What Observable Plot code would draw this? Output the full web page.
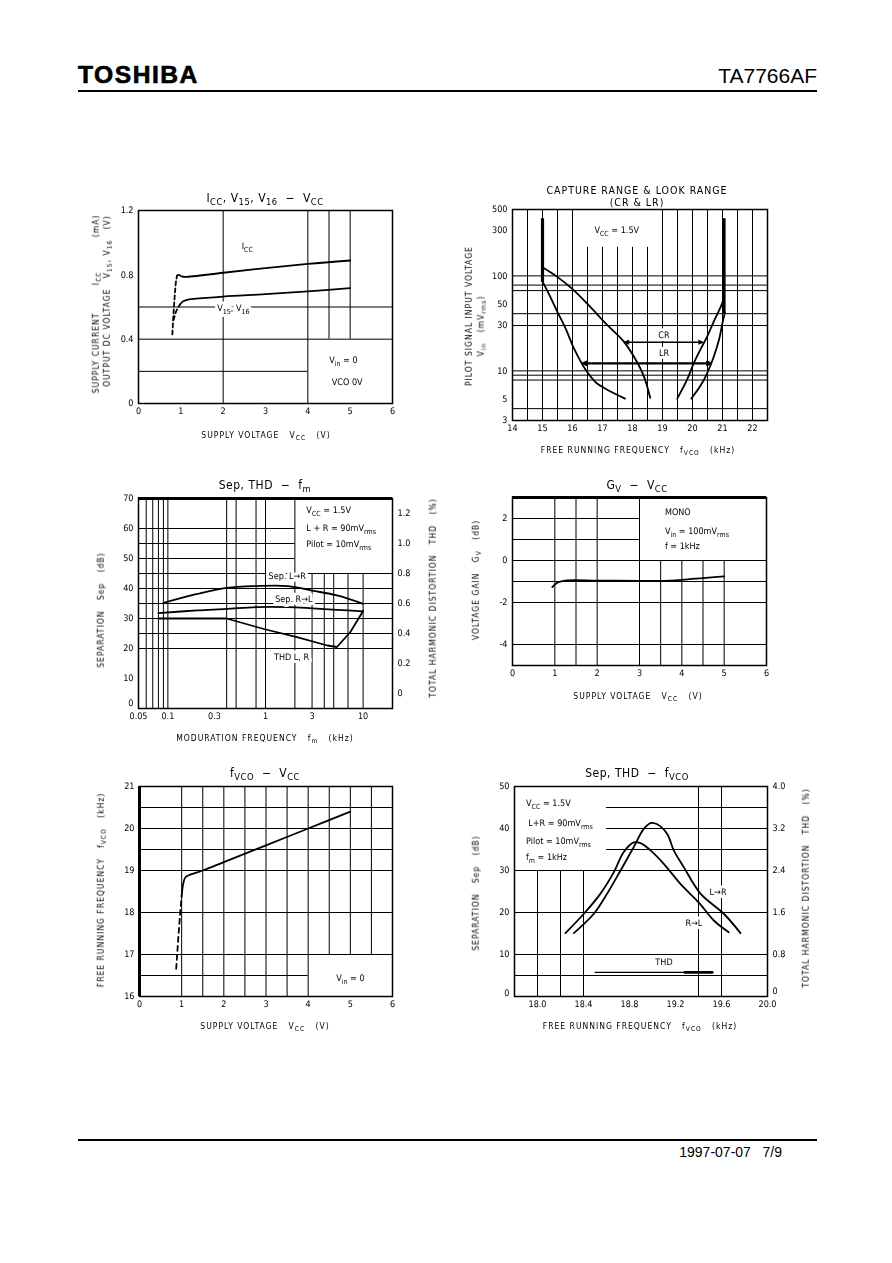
<!DOCTYPE html>
<html><head><meta charset="utf-8">
<script src="https://cdn.jsdelivr.net/npm/d3@7"></script>
<script src="https://cdn.jsdelivr.net/npm/@observablehq/plot@0.6"></script>
<style>
html,body{margin:0;padding:0;background:#fff;}
body{width:892px;height:1263px;position:relative;overflow:hidden;color:#000;}
sub{font-size:78%;vertical-align:-0.3em;line-height:0;}
.hd{position:absolute;font-family:"Liberation Sans",Arial,sans-serif;}
svg{will-change:transform;}
svg text{text-rendering:geometricPrecision;}
.lab{will-change:transform;}
</style></head><body>
<script>
// ---------------- DATA ----------------
// Chart 1: ICC, V15, V16 - VCC
const c1_iccDashV = [0.80, 0.82, 0.85, 0.88, 0.91];
const c1_iccDash  = [0.43, 0.53, 0.65, 0.75, 0.795];
const c1_iccV = [0.91, 0.95, 1.02, 1.10, 2.0, 3.0, 4.0, 5.0];
const c1_icc  = [0.795, 0.80, 0.79, 0.787, 0.813, 0.842, 0.868, 0.889];
const c1_v15DashV = [0.83, 0.87, 0.92, 0.98];
const c1_v15Dash  = [0.52, 0.56, 0.59, 0.615];
const c1_v15V = [0.98, 1.05, 1.15, 1.30, 2.0, 3.0, 4.0, 5.0];
const c1_v15  = [0.615, 0.635, 0.645, 0.65, 0.665, 0.68, 0.697, 0.717];
const c1_xTicks = [0, 1, 2, 3, 4, 5, 6];
const c1_yTicks = [0, 0.4, 0.8, 1.2];

// Chart 2: Capture range & lock range (VCC = 1.5 V)
const c2_crLeftF = [15.02, 15.45, 16.01, 16.57, 17.13, 17.69, 18.03, 18.37, 18.59];
const c2_crLeftV = [122, 100, 72, 48, 31, 20.7, 14.4, 8.9, 5.2];
const c2_lrLeftF = [15.02, 15.22, 15.51, 15.78, 16.06, 16.46, 16.79, 17.13, 17.75];
const c2_lrLeftV = [85, 64, 41, 27.5, 16.9, 10, 7.5, 6.4, 5.1];
const c2_crRightF = [19.49, 19.82, 20.05, 20.27, 20.50, 20.72, 20.95, 21.06];
const c2_crRightV = [5.1, 8.1, 12.2, 16.9, 23.4, 33.6, 48, 59];
const c2_lrRightF = [19.96, 20.27, 20.50, 20.72, 20.89, 21.00, 21.08];
const c2_lrRightV = [5.1, 7.0, 9.6, 14.4, 21.6, 32, 41];
const c2_limitF = [15.0, 21.05];
const c2_limitTop = [400, 400];
const c2_limitBottom = [85, 40];
const c2_arrowName = ["CR", "LR"];
const c2_arrowFrom = [17.75, 16.35];
const c2_arrowTo = [20.33, 20.61];
const c2_arrowV = [20, 12];
const c2_xTicks = [14, 15, 16, 17, 18, 19, 20, 21, 22];
const c2_yTicks = [3, 5, 10, 30, 50, 100, 300, 500];

// Chart 3: Sep, THD - fm
const c3_sepLRf = [0.09, 0.2, 0.4, 0.8, 1.7, 3.0, 5.4, 10];
const c3_sepLR  = [35.2, 38.2, 40.2, 40.8, 40.8, 39.3, 37.7, 34.9];
const c3_sepRLf = [0.08, 0.2, 0.4, 0.8, 1.7, 3.0, 5.4, 10];
const c3_sepRL  = [31.8, 32.7, 33.2, 33.8, 33.8, 33.4, 32.9, 32.4];
const c3_thdF = [0.08, 0.4, 0.96, 2.1, 4.3, 5.4, 7.4, 10];
const c3_thd  = [0.50, 0.50, 0.43, 0.376, 0.32, 0.31, 0.41, 0.55];
const c3_xTicks = [0.05, 0.1, 0.3, 1, 3, 10];
const c3_yTicks = [0, 10, 20, 30, 40, 50, 60, 70];
const c3_thdTicks = [0, 0.2, 0.4, 0.6, 0.8, 1.0, 1.2];

// Chart 4: Gv - VCC
const c4_vcc = [0.94, 1.06, 1.29, 2.0, 3.0, 3.5, 4.0, 4.5, 5.0];
const c4_gv  = [-1.27, -1.06, -0.95, -0.96, -0.97, -0.97, -0.92, -0.84, -0.76];
const c4_xTicks = [0, 1, 2, 3, 4, 5, 6];
const c4_yTicks = [2, 0, -2, -4];

// Chart 5: fVCO - VCC
const c5_dashV = [0.87, 0.92, 0.97, 1.0];
const c5_dashF = [16.66, 17.4, 18.05, 18.4];
const c5_vcc = [1.0, 1.04, 1.09, 1.2, 1.5, 2.0, 3.0, 4.0, 5.0];
const c5_f   = [18.4, 18.7, 18.84, 18.9, 19.0, 19.2, 19.6, 20.0, 20.4];
const c5_xTicks = [0, 1, 2, 3, 4, 5, 6];
const c5_yTicks = [16, 17, 18, 19, 20, 21];

// Chart 6: Sep, THD - fVCO
const c6_sepRLf = [18.243, 18.403, 18.548, 18.664, 18.750, 18.837, 18.896, 18.983, 19.098, 19.243, 19.411, 19.533, 19.663];
const c6_sepRL  = [15.1, 19.7, 24.5, 29.6, 34.4, 36.7, 36.5, 34.8, 31.6, 26.8, 22.1, 18.1, 15.3];
const c6_sepLRf = [18.316, 18.490, 18.606, 18.722, 18.837, 18.924, 18.983, 19.041, 19.128, 19.185, 19.272, 19.417, 19.620, 19.765];
const c6_sepLR  = [15.1, 19.7, 24.5, 30.0, 35.6, 39.9, 41.3, 41.0, 38.7, 34.8, 30.8, 24.5, 19.7, 15.1];
const c6_thdF = [18.50, 19.28, 19.52];
const c6_thd  = [0.46, 0.46, 0.46];
const c6_xTicks = [18.0, 18.4, 18.8, 19.2, 19.6, 20.0];
const c6_yTicks = [0, 10, 20, 30, 40, 50];
const c6_thdTicks = [0, 0.8, 1.6, 2.4, 3.2, 4.0];

// ---------------- HELPERS ----------------
const FONT = '"Liberation Sans Narrow","DejaVu Sans Condensed","Liberation Sans",Arial,sans-serif';
const SVGNS = "http://www.w3.org/2000/svg";

function subify(svg) {
  svg.querySelectorAll("text").forEach(t => {
    const targets = t.querySelector("tspan") ? [...t.querySelectorAll("tspan")] : [t];
    targets.forEach(el => {
      const s = el.textContent;
      if (!s.includes("_{")) return;
      el.textContent = "";
      s.split(/_\{([^}]*)\}/).forEach((p, i) => {
        if (!p) return;
        const ts = document.createElementNS(SVGNS, "tspan");
        ts.textContent = p;
        if (i % 2) { ts.setAttribute("font-size", "78%"); ts.setAttribute("baseline-shift", "-3"); }
        el.appendChild(ts);
      });
    });
  });
}

function chart(frame, m, scales, marks) {
  const [x0, y0, x1, y1] = frame;
  const svg = Plot.plot({
    width: x1 - x0 + m[1] + m[3],
    height: y1 - y0 + m[0] + m[2],
    marginTop: m[0], marginRight: m[1], marginBottom: m[2], marginLeft: m[3],
    x: {...scales.x, axis: null},
    y: {...scales.y, axis: null},
    style: {fontFamily: FONT, fontSize: "9px", color: "#000", background: "transparent", overflow: "visible"},
    marks
  });
  svg.style.position = "absolute";
  svg.style.left = (x0 - m[3]) + "px";
  svg.style.top = (y0 - m[0]) + "px";
  subify(svg);
  document.body.appendChild(svg);
}

function curve(xs, ys, extra = {}) {
  return Plot.line(xs, {x: xs, y: ys, stroke: "#000", strokeWidth: 1.8, curve: "catmull-rom", ...extra});
}

function note(data, opts) {
  return [
    Plot.text(data, {fontSize: 9, ...opts, fill: "white", stroke: "white", strokeWidth: 6}),
    Plot.text(data, {fontSize: 9, ...opts, fill: "black"})
  ];
}

function note0(data, opts) {
  return Plot.text(data, {fontSize: 9, fill: "black", ...opts});
}

// tick labels drawn through the chart's own scales
const fmt1 = d => d === 0 ? "0" : d.toFixed(1);
const xLab = (ticks, f = String) => Plot.text(ticks, {x: d => d, frameAnchor: "bottom", dy: 10, text: f, fontSize: 9, fill: "black"});
const yLab = (ticks, f = String, dy = 0) => Plot.text(ticks, {y: d => d, frameAnchor: "left", dx: -5, dy, textAnchor: "end", text: f, fontSize: 9, fill: "black"});
const yLabR = (ticks, yOf, f, dy = 0) => Plot.text(ticks, {y: yOf, frameAnchor: "right", dx: 5, dy, textAnchor: "start", text: f, fontSize: 9, fill: "black"});

function L(html, x, y, size = 8.5, rot = false, extra = "") {
  const d = document.createElement("div");
  d.className = "lab";
  d.innerHTML = html;
  d.style.cssText = `position:absolute;left:${x}px;top:${y}px;transform:translate(-50%,-50%)${rot ? " rotate(-90deg)" : ""};font-size:${size}px;white-space:pre;line-height:1;font-family:${FONT};letter-spacing:1px;${extra}`;
  document.body.appendChild(d);
}

const grid = {stroke: "#000", strokeWidth: 1};

// ---------------- HEADER / FOOTER ----------------
(function () {
  const b = document.createElement("div");
  b.className = "hd"; b.textContent = "TOSHIBA";
  b.style.cssText += "left:78px;top:62px;font-size:23px;font-weight:900;letter-spacing:1.4px;transform-origin:left top;transform:scaleX(1.07);-webkit-text-stroke:0.6px #000;";
  document.body.appendChild(b);
  const p = document.createElement("div");
  p.className = "hd"; p.textContent = "TA7766AF";
  p.style.cssText += "right:75px;top:64px;font-size:21px;";
  document.body.appendChild(p);
  const l1 = document.createElement("div");
  l1.style.cssText = "position:absolute;left:78px;top:90px;width:739px;height:2px;background:#000;";
  document.body.appendChild(l1);
  const l2 = document.createElement("div");
  l2.style.cssText = "position:absolute;left:78px;top:1139px;width:739px;height:2px;background:#000;";
  document.body.appendChild(l2);
  const f = document.createElement("div");
  f.className = "hd"; f.textContent = "1997-07-07   7/9";
  f.style.cssText += "right:110px;top:1144px;font-size:14px;white-space:pre;";
  document.body.appendChild(f);
})();

// ---------------- CHART 1 ----------------
chart([138, 210, 392, 403], [6, 10, 22, 30],
  {x: {domain: [0, 6]}, y: {domain: [0, 1.2]}},
  [
    Plot.ruleY([0.6, 0.4], grid),
    Plot.ruleY([0.2], {...grid, x1: 0, x2: 4}),
    Plot.ruleX([2, 4], grid),
    Plot.ruleX([4.5, 5], {...grid, y1: 0.4, y2: 1.2}),
    curve(c1_iccDashV, c1_iccDash, {strokeDasharray: "4,3", curve: "linear"}),
    curve(c1_iccV, c1_icc),
    curve(c1_v15DashV, c1_v15Dash, {strokeDasharray: "4,3", curve: "linear"}),
    curve(c1_v15V, c1_v15),
    note0([0], {x: 2.57, y: 0.98, text: () => "I_{CC}"}),
    ...note([0], {x: 2.24, y: 0.59, text: () => "V_{15}, V_{16}"}),
    note0([0], {x: 4.84, y: 0.27, text: () => "V_{in} = 0"}),
    note0([0], {x: 4.93, y: 0.13, text: () => "VCO 0V"}),
    Plot.frame({stroke: "#000", strokeWidth: 1.5}),
    xLab(c1_xTicks),
    yLab(c1_yTicks, fmt1)
  ]);
L("I<sub>CC</sub>, V<sub>15</sub>, V<sub>16</sub>  −  V<sub>CC</sub>", 265, 198, 12, false, "letter-spacing:0.5px;");
L("SUPPLY VOLTAGE   V<sub>CC</sub>   (V)", 266, 435, 8.5);
L("SUPPLY CURRENT        I<sub>CC</sub>          (mA)", 96, 304, 8.5, true);
L("OUTPUT DC VOLTAGE   V<sub>15</sub>, V<sub>16</sub>   (V)", 107, 301, 8.5, true);

// ---------------- CHART 2 ----------------
chart([512, 209, 767, 420], [6, 10, 22, 30],
  {x: {domain: [14, 22.5]}, y: {type: "log", domain: [3, 500]}},
  [
    Plot.ruleX([14.5, 15, 15.5, 16, 19, 19.5, 20, 20.5, 21, 21.5, 22], grid),
    Plot.ruleX([16.5, 17, 17.5, 18, 18.5], {...grid, y1: 3, y2: 200}),
    Plot.ruleY([100, 80, 70, 40, 30, 10, 9, 8, 4], grid),
    Plot.ruleX(c2_limitF, {x: c2_limitF, y1: c2_limitBottom, y2: c2_limitTop, stroke: "#000", strokeWidth: 3.2}),
    curve(c2_crLeftF, c2_crLeftV),
    curve(c2_lrLeftF, c2_lrLeftV),
    curve(c2_crRightF, c2_crRightV),
    curve(c2_lrRightF, c2_lrRightV),
    ...note([0], {x: 19.05, y: 24, text: () => "CR"}),
    ...note([0], {x: 19.05, y: 15.2, text: () => "LR"}),
    Plot.arrow(c2_arrowName, {x1: (d, i) => (c2_arrowFrom[i] + c2_arrowTo[i]) / 2, x2: (d, i) => c2_arrowFrom[i], y1: (d, i) => c2_arrowV[i], y2: (d, i) => c2_arrowV[i], stroke: "#000", strokeWidth: (d, i) => i ? 2.2 : 1.4, headLength: 6, headAngle: 50}),
    Plot.arrow(c2_arrowName, {x1: (d, i) => (c2_arrowFrom[i] + c2_arrowTo[i]) / 2, x2: (d, i) => c2_arrowTo[i], y1: (d, i) => c2_arrowV[i], y2: (d, i) => c2_arrowV[i], stroke: "#000", strokeWidth: (d, i) => i ? 2.2 : 1.4, headLength: 6, headAngle: 50}),
    note0([0], {x: 16.73, y: 305, textAnchor: "start", text: () => "V_{CC} = 1.5V"}),
    Plot.frame({stroke: "#000", strokeWidth: 1.5}),
    xLab(c2_xTicks),
    yLab(c2_yTicks)
  ]);
L("CAPTURE RANGE &amp; LOOK RANGE", 637, 190, 10.5);
L("(CR &amp; LR)", 637, 202, 10.5);
L("FREE RUNNING FREQUENCY   f<sub>VCO</sub>   (kHz)", 638, 450, 8.5);
L("PILOT SIGNAL INPUT VOLTAGE", 469, 316, 8.5, true);
L("V<sub>in</sub>   (mV<sub>rms</sub>)", 481, 326, 8.5, true);

// ---------------- CHART 3 ----------------
chart([138, 498, 392, 708], [6, 30, 22, 30],
  {x: {type: "log", domain: [0.05, 20]}, y: {domain: [0, 70]}},
  [
    Plot.ruleX([0.06, 0.07, 0.08, 0.09, 0.1, 0.4, 0.5, 0.8, 1, 2], grid),
    Plot.ruleX([3, 4, 5, 7, 10], {...grid, y1: 0, y2: 45}),
    Plot.ruleY([60, 55, 50], {...grid, x1: 0.05, x2: 2}),
    Plot.ruleY([45, 40, 35, 30, 25, 20], grid),
    Plot.ruleY([70], {stroke: "#000", strokeWidth: 3}),
    curve(c3_sepLRf, c3_sepLR),
    curve(c3_sepRLf, c3_sepRL),
    curve(c3_thdF, c3_thd.map(v => v * 50 + 5), {curve: "linear"}),
    ...note([0], {x: 1.67, y: 44.2, text: () => "Sep. L→R"}),
    ...note([0], {x: 1.95, y: 36.6, text: () => "Sep. R→L"}),
    ...note([0], {x: 1.85, y: 17.0, text: () => "THD L, R"}),
    note0([0], {x: 2.62, y: 66, textAnchor: "start", text: () => "V_{CC} = 1.5V"}),
    note0([0], {x: 2.62, y: 60.2, textAnchor: "start", text: () => "L + R = 90mV_{rms}"}),
    note0([0], {x: 2.62, y: 54.8, textAnchor: "start", text: () => "Pilot = 10mV_{rms}"}),
    Plot.frame({stroke: "#000", strokeWidth: 1.5}),
    xLab(c3_xTicks),
    yLab(c3_yTicks.filter(d => d > 0)),
    yLab([0], String, -5),
    yLabR(c3_thdTicks, v => v * 50 + 5, fmt1)
  ]);
L("Sep, THD  −  f<sub>m</sub>", 265, 485, 12, false, "letter-spacing:0.5px;");
L("MODURATION FREQUENCY   f<sub>m</sub>   (kHz)", 265, 738, 8.5);
L("SEPARATION   Sep   (dB)", 101, 610, 8.5, true);
L("TOTAL HARMONIC DISTORTION   THD   (%)", 433, 598, 8.5, true);

// ---------------- CHART 4 ----------------
chart([512, 497, 766, 665], [6, 10, 22, 30],
  {x: {domain: [0, 6]}, y: {domain: [-5, 3]}},
  [
    Plot.ruleX([1, 1.5, 2, 3], grid),
    Plot.ruleX([3.5, 4, 4.5, 5], {...grid, y1: -5, y2: 0}),
    Plot.ruleY([2, 1], {...grid, x1: 0, x2: 3}),
    Plot.ruleY([0, -1, -2, -4], grid),
    Plot.ruleY([3], {stroke: "#000", strokeWidth: 3}),
    curve(c4_vcc, c4_gv),
    note0([0], {x: 3.6, y: 2.3, textAnchor: "start", text: () => "MONO"}),
    note0([0], {x: 3.6, y: 1.4, textAnchor: "start", text: () => "V_{in} = 100mV_{rms}"}),
    note0([0], {x: 3.6, y: 0.68, textAnchor: "start", text: () => "f = 1kHz"}),
    Plot.frame({stroke: "#000", strokeWidth: 1.5}),
    xLab(c4_xTicks),
    yLab(c4_yTicks)
  ]);
L("G<sub>V</sub>  −  V<sub>CC</sub>", 637, 485, 12, false, "letter-spacing:0.5px;");
L("SUPPLY VOLTAGE   V<sub>CC</sub>   (V)", 638, 696, 8.5);
L("VOLTAGE GAIN   G<sub>V</sub>   (dB)", 476, 580, 8.5, true);

// ---------------- CHART 5 ----------------
chart([139, 786, 392, 996], [6, 10, 22, 30],
  {x: {domain: [0, 6]}, y: {domain: [16, 21]}},
  [
    Plot.ruleX([1, 1.5, 2, 2.5, 3, 3.5, 4], grid),
    Plot.ruleX([4.5, 5, 5.5], {...grid, y1: 17, y2: 21}),
    Plot.ruleY([20.5, 20, 19.5, 19, 18, 17], grid),
    Plot.ruleY([16.5], {...grid, x1: 0, x2: 4}),
    Plot.ruleX([0], {stroke: "#000", strokeWidth: 3}),
    curve(c5_dashV, c5_dashF, {strokeDasharray: "5,4", curve: "linear"}),
    curve(c5_vcc, c5_f),
    note0([0], {x: 5.0, y: 16.43, text: () => "V_{in} = 0"}),
    Plot.frame({stroke: "#000", strokeWidth: 1.5}),
    xLab(c5_xTicks),
    yLab(c5_yTicks)
  ]);
L("f<sub>VCO</sub>  −  V<sub>CC</sub>", 265, 773, 12, false, "letter-spacing:0.5px;");
L("SUPPLY VOLTAGE   V<sub>CC</sub>   (V)", 265, 1026, 8.5);
L("FREE RUNNING FREQUENCY   f<sub>VCO</sub>   (kHz)", 101, 890, 8.5, true);

// ---------------- CHART 6 ----------------
chart([514, 786, 767, 996], [6, 30, 22, 30],
  {x: {domain: [17.8, 20.0]}, y: {domain: [0, 50]}},
  [
    Plot.ruleY([45, 40, 35], {...grid, x1: 18.6, x2: 20}),
    Plot.ruleY([30, 20, 10, 5], grid),
    Plot.ruleX([18.0, 18.2, 18.4], {...grid, y1: 0, y2: 30}),
    Plot.ruleX([19.4, 19.6], grid),
    curve(c6_sepRLf, c6_sepRL),
    curve(c6_sepLRf, c6_sepLR),
    Plot.line(c6_thdF, {x: c6_thdF, y: c6_thd.map(v => v / 0.08), stroke: "#000", strokeWidth: 1.3}),
    Plot.line(c6_thdF.filter(f => f >= 19.28), {x: d => d, y: d => c6_thd[c6_thdF.indexOf(d)] / 0.08, stroke: "#000", strokeWidth: 2.6}),
    ...note([0], {x: 19.57, y: 24.8, text: () => "L→R"}),
    ...note([0], {x: 19.36, y: 17.4, text: () => "R→L"}),
    ...note([0], {x: 19.1, y: 8.2, text: () => "THD"}),
    note0([0], {x: 17.9, y: 46, textAnchor: "start", text: () => "V_{CC} = 1.5V"}),
    note0([0], {x: 17.92, y: 41.3, textAnchor: "start", text: () => "L+R = 90mV_{rms}"}),
    note0([0], {x: 17.9, y: 37.1, textAnchor: "start", text: () => "Pilot = 10mV_{rms}"}),
    note0([0], {x: 17.9, y: 33.1, textAnchor: "start", text: () => "f_{m} = 1kHz"}),
    Plot.frame({stroke: "#000", strokeWidth: 1.5}),
    xLab(c6_xTicks, d => d.toFixed(1)),
    yLab(c6_yTicks.filter(d => d > 0)),
    yLab([0], String, -3),
    yLabR(c6_thdTicks.filter(d => d > 0), v => v / 0.08, fmt1),
    yLabR([0], v => v / 0.08, fmt1, -5)
  ]);
L("Sep, THD  −  f<sub>VCO</sub>", 637, 773, 12, false, "letter-spacing:0.5px;");
L("FREE RUNNING FREQUENCY   f<sub>VCO</sub>   (kHz)", 640, 1026, 8.5);
L("SEPARATION   Sep   (dB)", 476, 893, 8.5, true);
L("TOTAL HARMONIC DISTORTION   THD   (%)", 806, 888, 8.5, true);
</script>
</body></html>
